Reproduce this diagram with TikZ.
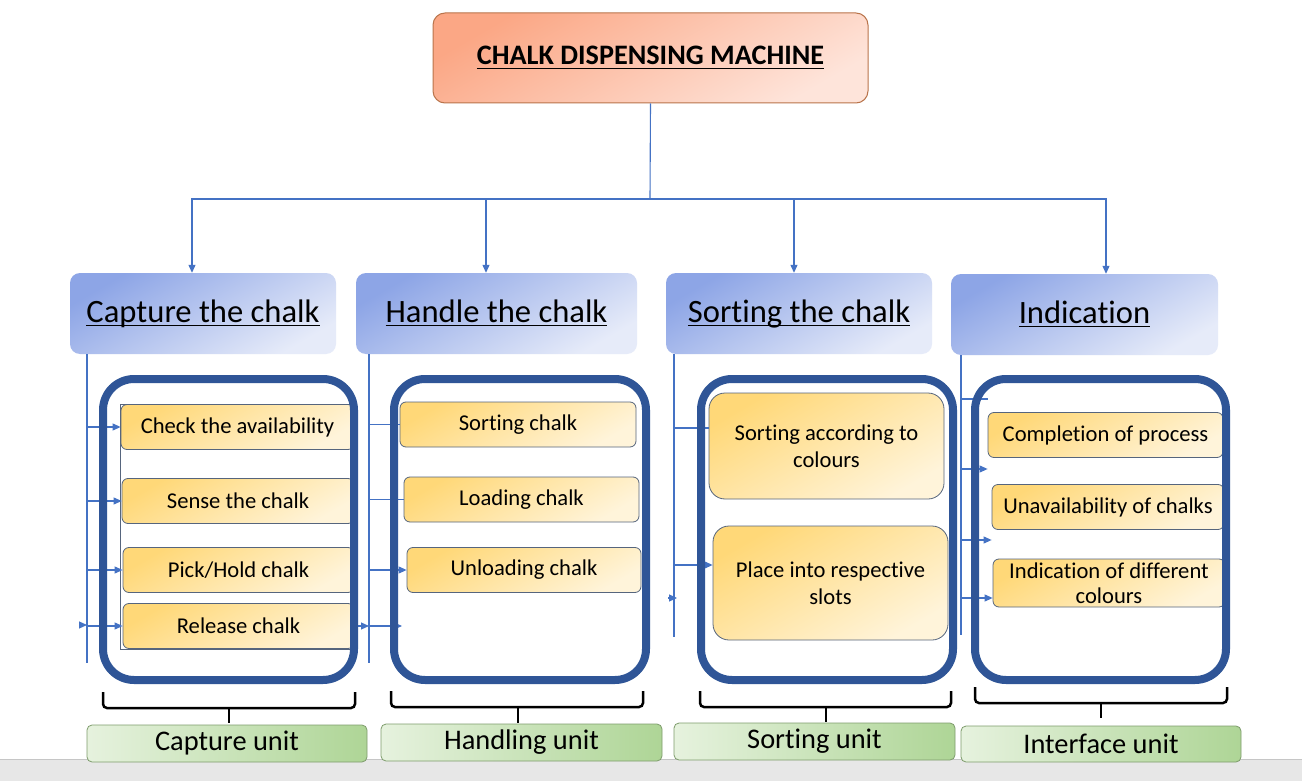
\documentclass[tikz,border=0pt]{standalone}
\usepackage{amsmath}
\usepackage{fontspec}
\setmainfont{Carlito}[Ligatures=NoCommon]
\usetikzlibrary{arrows.meta,positioning,fit}
\definecolor{linkblue}  {HTML}{4472C4}
\definecolor{framenavy} {HTML}{2F5597}
\definecolor{titletop}  {HTML}{FBA785}
\definecolor{titlebot}  {HTML}{FEE4DA}
\definecolor{titleedge} {HTML}{B9744B}
\definecolor{headtop}   {HTML}{8DA5E6}
\definecolor{headbot}   {HTML}{E6EBF9}
\definecolor{itemtop}   {HTML}{FFD878}
\definecolor{itembot}   {HTML}{FFF4DA}
\definecolor{itemedge}  {HTML}{56657D}
\definecolor{unitleft}  {HTML}{E6F2DE}
\definecolor{unitright} {HTML}{AED596}
\definecolor{unitedge}  {HTML}{7E9C6C}
\definecolor{stripgray} {HTML}{E7E7E7}
\newcommand{\headul}[1]{\underline{\smash[b]{#1}}}

\begin{document}
\begin{tikzpicture}[x=1pt, y=-1pt,
  topbox/.style={rectangle, rounded corners=12pt, draw=titleedge, line width=1pt,
                 top color=titletop, bottom color=titlebot, shading angle=30,
                 minimum width=435pt, minimum height=90pt,
                 font=\fontsize{28.2}{33}\selectfont\bfseries},
  headbox/.style={rectangle, rounded corners=10pt, top color=headtop,
                  bottom color=headbot, shading angle=30, minimum width=#1,
                  minimum height=81pt, inner sep=0pt,
                  font=\fontsize{32.6}{38}\selectfont},
  itembox/.style={rectangle, rounded corners=6pt, draw=itemedge, line width=0.8pt,
                  top color=itemtop, bottom color=itembot, shading angle=30,
                  minimum width=#1, minimum height=45pt, inner sep=0pt,
                  align=center, font=\fontsize{22.6}{27}\selectfont},
  itembox/.default=232pt,
  panel/.style={rectangle, rounded corners=31pt, draw=framenavy, line width=8pt,
                minimum width=251pt, minimum height=301pt},
  unitbox/.style={rectangle, rounded corners=5pt, draw=unitedge, line width=0.8pt,
                  left color=unitleft, right color=unitright,
                  minimum width=280pt, minimum height=37pt, inner sep=0pt,
                  font=\fontsize{28.4}{33}\selectfont},
  link/.style={draw=linkblue, line width=1.1pt},
  arr/.style={link, -{Triangle[length=8pt,width=7pt]}},
  bracket/.style={line width=2.5pt, rounded corners=4pt}
]
  \useasboundingbox (0,0) rectangle (1302,781);
  \fill[white] (0,0) rectangle (1302,781);
  \fill[stripgray] (0,759) rectangle (1302,781);
  \draw[gray!45, line width=1pt] (0,759) -- (1302,759);

  \node[topbox] (machine) at (650.5,58) {\underline{CHALK DISPENSING MACHINE}};

  \node[headbox=266pt] (capture)    at (203,313.5)    {\headul{Capture the chalk}};
  \node[headbox=281pt] (handle)     at (496.5,313.5)  {\headul{Handle the chalk}};
  \node[headbox=266pt] (sorting)    at (799,313.5)    {\headul{Sorting the chalk}};
  \node[headbox=267pt] (indication) at (1084.5,314.5) {\headul{Indication}};

  % main bus
  \coordinate (bus) at (650,199);
  \draw[link] (machine.south) -- (bus);
  \draw[arr] (bus) -| ([xshift=-11pt]capture.north);
  \draw[arr] (bus) -| ([xshift=-10.5pt]handle.north);
  \draw[arr] (bus) -| ([xshift=-5pt]sorting.north);
  \draw[arr] (bus) -| ([xshift=21.5pt]indication.north);

  % capture unit
  \node[itembox=233pt] (check)   at (237.5,427) {Check the availability};
  \node[itembox]       (sense)   at (238,501)   {Sense the chalk};
  \node[itembox=231pt] (pick)    at (238.5,570) {Pick/Hold chalk};
  \node[itembox=231pt] (release) at (238.5,626) {Release chalk};
  \node[draw=itemedge, line width=0.8pt, inner sep=0pt, fit=(check)(release)] (capgroup) {};

  % handling unit
  \node[itembox=236pt] (sortchalk) at (518,424.5) {Sorting chalk};
  \node[itembox=235pt] (loading)   at (521.5,499.5) {Loading chalk};
  \node[itembox=234pt] (unloading) at (524,570) {Unloading chalk};

  % sorting unit
  \node[itembox=235pt, minimum height=106pt, rounded corners=16pt]
        (bycolour) at (826.5,446) {Sorting according to\\colours};
  \node[itembox=235pt, minimum height=114pt, rounded corners=16pt]
        (slots) at (830.5,583) {Place into respective\\slots};

  % interface unit
  \node[itembox=235pt] (completion) at (1105.5,435) {Completion of process};
  \node[itembox]       (unavail)    at (1108,507)   {Unavailability of chalks};
  \node[itembox, minimum height=48pt] (diffcol) at (1109,583)
        {Indication of different\\[-2pt]colours};

  % feeder lines
  \coordinate (capbase) at (87,663);
  \coordinate (capstub) at (79,625);
  \draw[link] (capture.south -| capbase) -- (capbase);
  \draw[arr] (check.west -| capbase)   -- (check.west);
  \draw[arr] (sense.west -| capbase)   -- (sense.west);
  \draw[arr] (pick.west -| capbase)    -- (pick.west);
  \draw[arr] (release.west -| capbase) -- (release.west);
  \draw[arr] (capstub) -- (capstub -| capbase);

  \coordinate (hndbase) at (369,663);
  \coordinate (hndfree) at (402,626);
  \draw[link] (handle.south -| hndbase) -- (hndbase);
  \draw[link] (sortchalk.west -| hndbase) -- (sortchalk.west);
  \draw[link] (loading.west -| hndbase)   -- (loading.west);
  \draw[arr]  (unloading.west -| hndbase) -- (unloading.west);
  \draw[arr]  (release.east) -- (release.east -| hndbase);
  \draw[arr]  (release.east -| hndbase) -- (hndfree);

  \coordinate (srtbase) at (674,637);
  \coordinate (srtstub) at (668,598);
  \coordinate (srtin)   at ([yshift=18pt]bycolour.west);
  \coordinate (slotin)  at ([yshift=18pt]slots.west);
  \draw[link] (sorting.south -| srtbase) -- (srtbase);
  \draw[link] (srtin -| srtbase) -- (srtin);
  \draw[arr]  (slotin -| srtbase) -- (slotin);
  \draw[arr]  (srtstub) -- ([xshift=3pt]srtstub -| srtbase);

  \coordinate (indbase) at (961,635);
  \coordinate (indin1)  at ([yshift=36pt]completion.west);
  \coordinate (indin2)  at ([yshift=-34pt]completion.west);
  \coordinate (indin3)  at ([yshift=-33pt]unavail.west);
  \coordinate (indin4)  at ([yshift=-15pt]diffcol.west);
  \draw[link] (indication.south -| indbase) -- (indbase);
  \draw[link] (indin1 -| indbase) -- (indin1);
  \draw[arr]  (indin2 -| indbase) -- (indin2);
  \draw[arr]  (indin3 -| indbase) -- (indin3);
  \draw[arr]  (indin4 -| indbase) -- (indin4);

  % unit frames
  \node[panel]                      (capframe) at (228.5,529.5)  {};
  \node[panel, minimum width=252pt] (hndframe) at (520,529.5)    {};
  \node[panel, minimum width=252pt] (srtframe) at (827,529.5)    {};
  \node[panel]                      (indframe) at (1100.5,529.5) {};

  % brackets
  \draw[bracket] (103,692) -- (103,708) -- (355,708) -- (355,692);
  \draw[bracket] (229,708) -- (229,723);
  \draw[bracket] (391,691) -- (391,707) -- (643,707) -- (643,691);
  \draw[bracket] (518,707) -- (518,723);
  \draw[bracket] (700,691) -- (700,707) -- (951,707) -- (951,691);
  \draw[bracket] (826,707) -- (826,722);
  \draw[bracket] (975,687) -- (975,703) -- (1227,703) -- (1227,687);
  \draw[bracket] (1101,703) -- (1101,718);

  \node[unitbox]                      (capunit) at (227,743.5)   {Capture unit};
  \node[unitbox, minimum width=281pt] (hndunit) at (521.5,742.5) {Handling unit};
  \node[unitbox, minimum width=281pt] (srtunit) at (814.5,741.5) {Sorting unit};
  \node[unitbox, minimum height=36pt] (indunit) at (1101,744)    {Interface unit};
\end{tikzpicture}
\end{document}
